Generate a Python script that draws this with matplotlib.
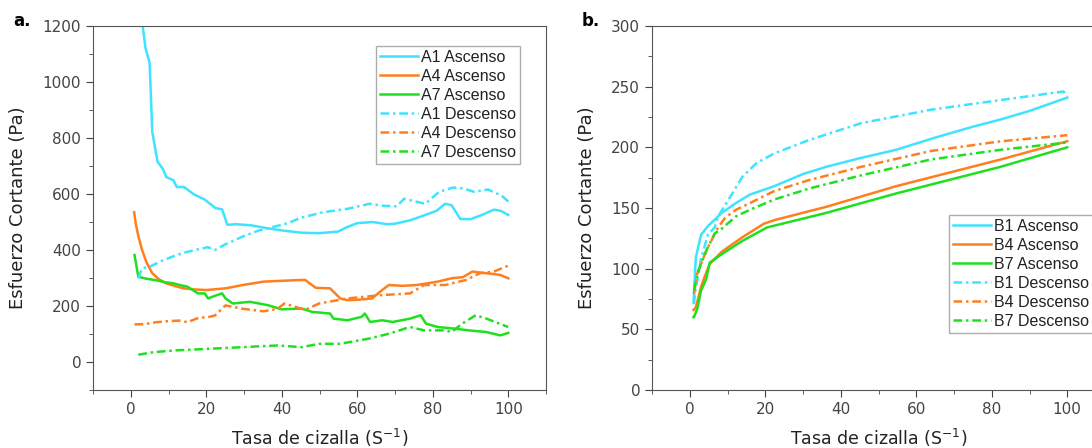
import matplotlib.pyplot as plt
from matplotlib.ticker import MultipleLocator

# colours
cyan = "#3fe3ff"
orange = "#ff7f1e"
green = "#1fe01f"

# ---- panel a ----
a1_asc_x = [3.1, 3.9, 5.0, 5.7, 7.1, 8.5, 9.4, 11.3, 12.2, 14.1, 16.8, 19.6, 22.4, 24.2, 25.6,
            28, 32, 36, 40, 45, 50, 55, 57, 60, 64, 68, 70, 74, 78, 81, 83.3, 85, 87.3, 90, 93, 96.2, 98, 100]
a1_asc_y = [1206, 1122, 1068, 822, 715, 690, 661, 649, 625, 625, 598, 580, 550, 545, 490,
            492, 488, 478, 470, 462, 460, 466, 480, 496, 500, 492, 494, 506, 525, 540, 565, 560, 511, 510, 525, 544, 540, 525]
a1_des_x = [2.0, 3, 5, 8, 11, 14, 17, 20.4, 22.3, 25, 30, 34, 37, 41.7, 45, 51, 57.4, 63.2, 67, 70.5, 72.4,
            78, 81.7, 85.4, 88, 90.9, 94.6, 98.3, 100.6]
a1_des_y = [298, 335, 340, 360, 376, 390, 400, 410, 400, 420, 450, 470, 480, 496, 515, 535, 547, 565, 558, 556, 583,
            565, 608, 623, 620, 608, 616, 594, 565]

a4_asc_x = [0.9, 1.3, 2, 3.0, 4.2, 5.7, 7.5, 9.4, 12, 14.1, 17, 20, 25.1, 29.7, 35.2, 40, 45.3, 46.2, 49,
            52.8, 55.5, 57.4, 60, 63.9, 66.6, 68.4, 72, 75.8, 81.3, 85, 88, 90.5, 94.2, 97.9, 100]
a4_asc_y = [535, 496, 450, 400, 355, 317, 295, 281, 270, 263, 259, 257, 263, 275, 287, 290, 293, 293, 265,
            263, 227, 221, 222, 227, 257, 275, 272, 275, 287, 299, 303, 323, 317, 311, 299]
a4_des_x = [1, 4, 6.7, 10, 13.2, 15, 18, 20.4, 22.3, 25.1, 29.7, 35.2, 38.9, 40.7, 46.2, 49.9, 57.4, 66.6,
            74, 77.7, 83.3, 88.8, 92.5, 96.2, 100]
a4_des_y = [134, 136, 142, 146, 148, 142, 158, 160, 166, 202, 190, 181, 190, 209, 186, 209, 227, 239,
            245, 275, 275, 293, 317, 323, 344]

a7_asc_x = [1, 2, 3.9, 6.7, 9, 11.3, 13, 15, 17.8, 19.6, 20.5, 22, 24.2, 25.1, 27, 31.6, 36.3, 40, 45.3,
            48, 52.8, 53.7, 57.4, 61.1, 62, 63.4, 66.6, 69.4, 74, 76.8, 78.2, 81.3, 85.9, 89.6, 94.2, 97.9, 100]
a7_asc_y = [382, 305, 298, 292, 285, 281, 275, 269, 245, 245, 227, 235, 245, 227, 209, 215, 203, 188, 191,
            179, 173, 155, 149, 161, 173, 143, 149, 143, 155, 167, 137, 125, 119, 113, 107, 95, 104]
a7_des_x = [2, 6, 11.3, 16, 20.5, 25, 29.7, 34, 38.9, 45.3, 49.9, 55.5, 62.9, 68.4, 74, 77.7, 83.3, 85,
            87.8, 91.4, 94.2, 100]
a7_des_y = [26, 35, 41, 44, 47, 50, 53, 56, 59, 53, 65, 65, 83, 101, 125, 113, 113, 107,
            137, 167, 155, 125]

# ---- panel b ----
b1_asc_x = [1, 1.6, 3.0, 4.8, 8.5, 12.2, 15.9, 22.4, 30, 36.2, 45, 54.7, 65, 75, 82.4, 90, 100]
b1_asc_y = [72, 109, 128, 135, 146, 154, 161, 168, 178, 184, 191, 198, 208, 217, 223, 230, 241]
b1_des_x = [1.1, 1.5, 3, 4.8, 6.6, 7.5, 10.3, 14, 17.7, 22.4, 31.6, 45.5, 63.9, 82.4, 99, 100]
b1_des_y = [71, 82, 108, 128, 134, 143, 157, 176, 187, 195, 206, 220, 231, 239, 246, 242]

b4_asc_x = [1, 1.6, 3.0, 3.9, 5.3, 8.5, 14, 19.6, 22.4, 36.2, 54.7, 82.4, 100]
b4_asc_y = [66, 68, 85, 93, 104, 114, 126, 137, 140, 151, 168, 190, 205]
b4_des_x = [1.1, 2.0, 4.4, 7.5, 9.4, 12.2, 15.9, 22.4, 31.6, 45.5, 63.9, 82.4, 100]
b4_des_y = [79, 96, 115, 134, 142, 148.5, 154, 164, 173, 184, 197, 205, 210]

b7_asc_x = [1, 1.1, 2.0, 3.0, 4.3, 5.3, 8.5, 14, 20.5, 36.2, 54.7, 82.4, 100]
b7_asc_y = [60, 60, 67, 82, 91, 105, 112, 123, 134, 146, 162, 184, 200]
b7_des_x = [1.1, 2.0, 4.4, 6.6, 8.5, 12.2, 15.9, 22.4, 31.6, 45.5, 63.9, 82.4, 100]
b7_des_y = [82, 96, 115, 129, 133, 143, 148.5, 157, 166, 177, 190, 198, 204]

plt.rcParams['font.family'] = ['DejaVu Sans']

fig = plt.figure(figsize=(10.92, 4.48), dpi=100)
axa = fig.add_axes([93 / 1092, 58 / 448, 453 / 1092, 364 / 448])
axb = fig.add_axes([652 / 1092, 58 / 448, 453 / 1092, 364 / 448])

lw = 1.8
dd = (0, (3.5, 1.5, 1, 1.5))

axa.plot(a1_asc_x, a1_asc_y, color=cyan, lw=lw, label="A1 Ascenso")
axa.plot(a4_asc_x, a4_asc_y, color=orange, lw=lw, label="A4 Ascenso")
axa.plot(a7_asc_x, a7_asc_y, color=green, lw=lw, label="A7 Ascenso")
axa.plot(a1_des_x, a1_des_y, color=cyan, lw=lw, ls=dd, label="A1 Descenso")
axa.plot(a4_des_x, a4_des_y, color=orange, lw=lw, ls=dd, label="A4 Descenso")
axa.plot(a7_des_x, a7_des_y, color=green, lw=lw, ls=dd, label="A7 Descenso")

axb.plot(b1_asc_x, b1_asc_y, color=cyan, lw=lw, label="B1 Ascenso")
axb.plot(b4_asc_x, b4_asc_y, color=orange, lw=lw, label="B4 Ascenso")
axb.plot(b7_asc_x, b7_asc_y, color=green, lw=lw, label="B7 Ascenso")
axb.plot(b1_des_x, b1_des_y, color=cyan, lw=lw, ls=dd, label="B1 Descenso")
axb.plot(b4_des_x, b4_des_y, color=orange, lw=lw, ls=dd, label="B4 Descenso")
axb.plot(b7_des_x, b7_des_y, color=green, lw=lw, ls=dd, label="B7 Descenso")

axa.set_xlim(-10, 110)
axa.set_ylim(-100, 1200)
axa.yaxis.set_major_locator(MultipleLocator(200))
axa.yaxis.set_minor_locator(MultipleLocator(100))
axb.set_xlim(-10, 110)
axb.set_ylim(0, 300)
axb.yaxis.set_major_locator(MultipleLocator(50))
axb.yaxis.set_minor_locator(MultipleLocator(25))

for ax in (axa, axb):
    ax.xaxis.set_major_locator(MultipleLocator(20))
    ax.xaxis.set_minor_locator(MultipleLocator(10))
    ax.set_xticks([0, 20, 40, 60, 80, 100])
    ax.tick_params(which='both', direction='out', colors='#444444', labelsize=11,
                   top=False, right=False)
    ax.tick_params(which='major', length=5)
    ax.tick_params(which='minor', length=3)
    for sp in ax.spines.values():
        sp.set_color('#555555')
    ax.set_xlabel("Tasa de cizalla (S$^{-1}$)", fontsize=12.5, labelpad=7, color='#222222')
    ax.set_ylabel("Esfuerzo Cortante (Pa)", fontsize=13, labelpad=11, color='#222222')

axb.spines['right'].set_visible(False)

leg_kw = dict(loc='upper left', borderaxespad=0, fancybox=False,
              prop={'family': 'Liberation Sans', 'size': 11.5},
              handlelength=2.4, handletextpad=0.15, labelspacing=0.25, borderpad=0.25)
la = axa.legend(bbox_to_anchor=(0.625, 0.945), **leg_kw)
lb = axb.legend(bbox_to_anchor=(0.656, 0.481), **leg_kw)
for lg in (la, lb):
    lg.get_frame().set_edgecolor('#999999')
    lg.get_frame().set_linewidth(1.0)
    for t in lg.get_texts():
        t.set_color('#222222')

fig.text(13 / 1092, 1 - 21 / 448, "a.", fontsize=12, fontweight='bold', va='center')
fig.text(582 / 1092, 1 - 21 / 448, "b.", fontsize=12, fontweight='bold', va='center')

fig.savefig("out.png", dpi=100)
